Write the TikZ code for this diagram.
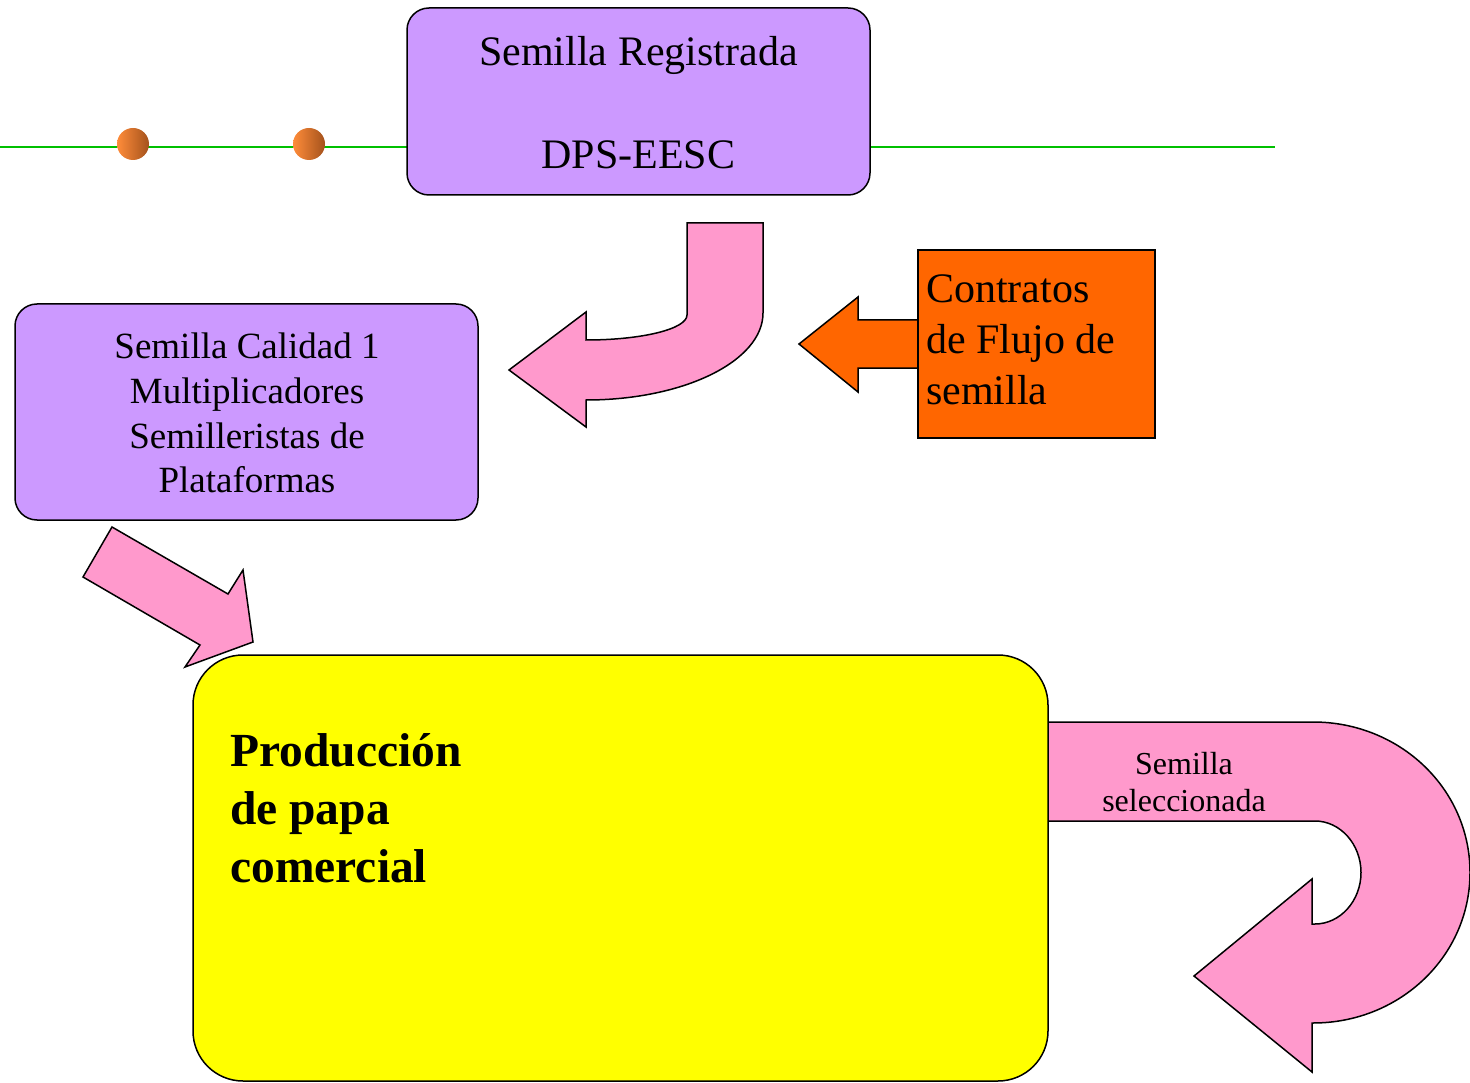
\documentclass[tikz,border=0pt]{standalone}
\usepackage{fontspec}
\setmainfont{Liberation Serif}
\definecolor{lila}{HTML}{CC99FF}
\definecolor{rosa}{HTML}{FF99CC}
\definecolor{naranja}{HTML}{FF6600}
\definecolor{verde}{HTML}{00C000}
\definecolor{amarillo}{HTML}{FFFF00}
\definecolor{bolaclara}{HTML}{FF8C3A}
\definecolor{bolaoscura}{HTML}{A4521C}
\tikzset{
  pbox/.style={draw=black, line width=1.5pt, fill=lila, rounded corners=22pt, inner sep=0pt},
  pinkarrow/.style={draw=black, line width=1.5pt, fill=rosa, line join=miter},
  orangearrow/.style={draw=black, line width=1.5pt, fill=naranja, line join=miter},
  ball/.style={circle, minimum size=32pt, inner sep=0pt, shading=axis, left color=bolaclara, right color=bolaoscura},
  txt/.style={inner sep=0pt}
}
\begin{document}
\begin{tikzpicture}[x=1pt,y=-1pt]
\useasboundingbox (0,0) rectangle (1470,1083);
% green line and balls
\coordinate (gl) at (0,147);
\coordinate (gr) at (1275,147);
\draw[verde, line width=2pt] (gl) -- (gr);
\node[ball] (b1) at (133,144) {};
\node[ball] (b2) at (309,144) {};
% top box
\node[pbox, minimum width=463pt, minimum height=187pt] (reg) at (638.5,101.5) {};
\node[txt, font=\fontsize{42}{50}\selectfont] (regt1) at (638.5,55) {Semilla Registrada};
\node[txt, font=\fontsize{42}{50}\selectfont] (regt2) at (638.5,155) {DPS-EESC};
% left box
\node[pbox, minimum width=463pt, minimum height=216pt] (cal) at (246.5,412) {};
\node[txt, align=center, font=\fontsize{37}{44.7}\selectfont] (calt) at (247,413)
  {Semilla Calidad 1\\Multiplicadores\\Semilleristas de\\Plataformas};
% bent arrow from top box to left box
\draw[pinkarrow] (687,223) -- (687,315)
  .. controls (687,329) and (642,340) .. (586,340)
  -- (586,312) -- (509,370) -- (586,427) -- (586,400)
  .. controls (684,400) and (763,361) .. (763,313)
  -- (763,223) -- cycle;
% orange arrow and box
\draw[orangearrow] (918,320) -- (858,320) -- (858,297) -- (799,344) -- (858,392) -- (858,368) -- (918,368) -- cycle;
\node[draw=black, line width=1.5pt, fill=naranja, minimum width=237pt, minimum height=188pt, inner sep=0pt] (con) at (1036.5,344) {};
\node[txt, anchor=west, align=left, font=\fontsize{42}{51}\selectfont] (cont) at (926,340)
  {Contratos\\de Flujo de\\semilla};
% diagonal arrow
\draw[pinkarrow] (112,527) -- (228,594) -- (243,570) -- (253,642) -- (185,667) -- (200,645) -- (83,577) -- cycle;
% U arrow at bottom right
\draw[pinkarrow] (1048,722) -- (1313,722)
  .. controls (1400,722) and (1470,789) .. (1470,872.5)
  .. controls (1470,956) and (1400,1023) .. (1313,1023)
  -- (1312,1023) -- (1312,1072) -- (1194,976) -- (1312,879) -- (1312,924) -- (1315,924)
  .. controls (1340,924) and (1361,901) .. (1361,872.5)
  .. controls (1361,844) and (1340,821) .. (1315,821)
  -- (1048,821) -- cycle;
\node[txt, align=center, font=\fontsize{32}{37}\selectfont] (selt) at (1184,782) {Semilla\\seleccionada};
% yellow box
\node[draw=black, line width=1.5pt, fill=amarillo, rounded corners=50pt, minimum width=855pt, minimum height=426pt, inner sep=0pt] (prod) at (620.5,868) {};
\node[txt, anchor=west, align=left, font=\fontsize{47.5}{58}\selectfont\bfseries] (prodt) at (230,808)
  {Producción\\de papa\\comercial};
\end{tikzpicture}
\end{document}
